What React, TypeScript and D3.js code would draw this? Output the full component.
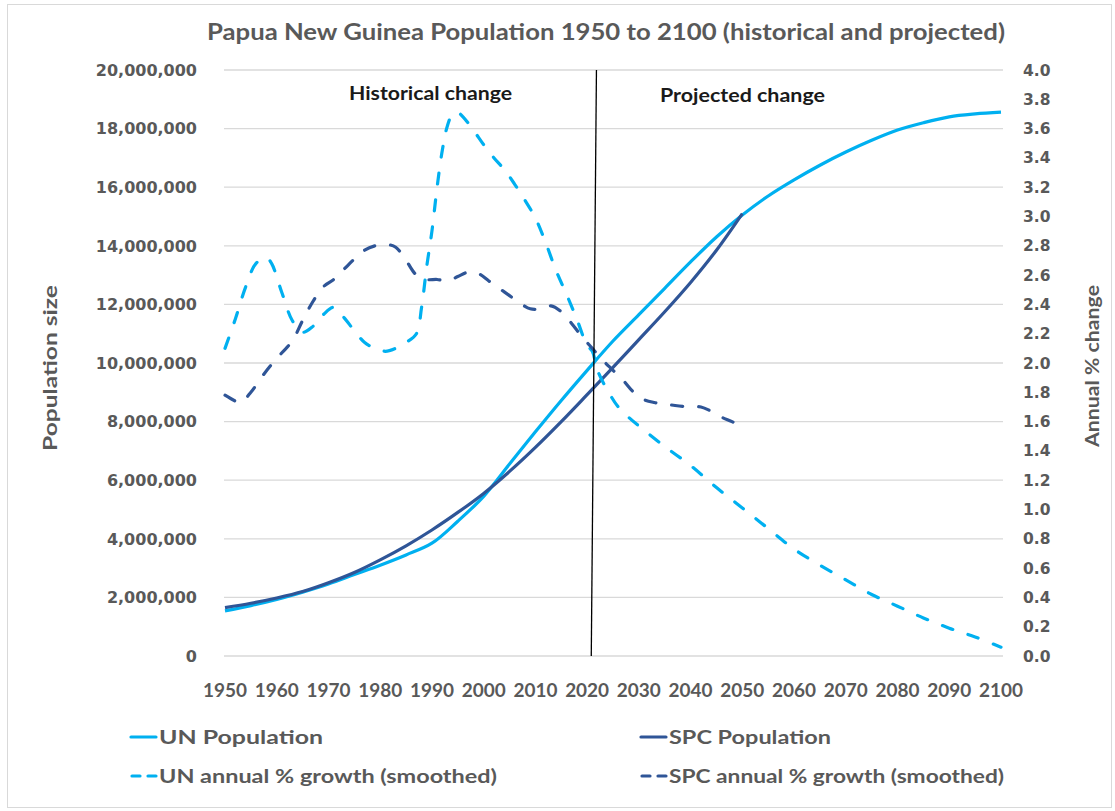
import React from "react";
import * as d3 from "d3";

const title = "Papua New Guinea Population 1950 to 2100 (historical and projected)";
const leftTicks = [0, 2000000, 4000000, 6000000, 8000000, 10000000, 12000000, 14000000, 16000000, 18000000, 20000000];
const rightTicks = [0, 0.2, 0.4, 0.6, 0.8, 1.0, 1.2, 1.4, 1.6, 1.8, 2.0, 2.2, 2.4, 2.6, 2.8, 3.0, 3.2, 3.4, 3.6, 3.8, 4.0];
const xTicks = [1950, 1960, 1970, 1980, 1990, 2000, 2010, 2020, 2030, 2040, 2050, 2060, 2070, 2080, 2090, 2100];

const unPopYears = [1950, 1955, 1960, 1965, 1970, 1975, 1980, 1985, 1990, 1995, 2000, 2005, 2010, 2015, 2020, 2025, 2030, 2035, 2040, 2045, 2050, 2055, 2060, 2065, 2070, 2075, 2080, 2085, 2090, 2095, 2100];
const unPop = [1.54, 1.72, 1.93, 2.18, 2.46, 2.78, 3.1, 3.45, 3.85, 4.6, 5.45, 6.55, 7.65, 8.72, 9.75, 10.75, 11.65, 12.55, 13.45, 14.3, 15.05, 15.7, 16.25, 16.75, 17.2, 17.6, 17.95, 18.2, 18.4, 18.5, 18.56];

const spcPopYears = [1950, 1955, 1960, 1965, 1970, 1975, 1980, 1985, 1990, 1995, 2000, 2005, 2010, 2015, 2020, 2025, 2030, 2035, 2040, 2045, 2050];
const spcPop = [1.65, 1.8, 1.98, 2.2, 2.5, 2.85, 3.28, 3.76, 4.3, 4.9, 5.55, 6.3, 7.12, 8.0, 8.92, 9.85, 10.8, 11.75, 12.75, 13.85, 15.1];

const unGrowthYears = [1950, 1952, 1954, 1956, 1958, 1959, 1961, 1963, 1965, 1967, 1969, 1971, 1973, 1975, 1977, 1979, 1981, 1983, 1985, 1987, 1988, 1989, 1990, 1991, 1992, 1993, 1994, 1995, 1996, 1998, 2000, 2002, 2004, 2006, 2008, 2010, 2012, 2014, 2016, 2018, 2020, 2021, 2022, 2024, 2026, 2028, 2030, 2035, 2040, 2045, 2050, 2055, 2060, 2065, 2070, 2075, 2080, 2085, 2090, 2095, 2100];
const unGrowth = [2.1, 2.3, 2.52, 2.68, 2.72, 2.68, 2.48, 2.29, 2.21, 2.25, 2.33, 2.38, 2.31, 2.22, 2.14, 2.1, 2.08, 2.1, 2.14, 2.2, 2.38, 2.66, 2.9, 3.2, 3.45, 3.62, 3.7, 3.71, 3.68, 3.59, 3.49, 3.4, 3.32, 3.22, 3.11, 2.99, 2.82, 2.63, 2.47, 2.3, 2.12, 2.08, 1.95, 1.81, 1.7, 1.63, 1.57, 1.43, 1.3, 1.15, 1.01, 0.87, 0.73, 0.62, 0.52, 0.42, 0.34, 0.26, 0.19, 0.13, 0.06];

const spcGrowthYears = [1950, 1952, 1953, 1955, 1957, 1959, 1961, 1963, 1965, 1967, 1969, 1971, 1973, 1975, 1977, 1979, 1981, 1983, 1985, 1987, 1989, 1991, 1993, 1995, 1997, 1999, 2001, 2003, 2005, 2007, 2009, 2011, 2013, 2015, 2017, 2019, 2021, 2023, 2025, 2027, 2029, 2031, 2033, 2035, 2037, 2040, 2042, 2044, 2046, 2048, 2050];
const spcGrowth = [1.78, 1.74, 1.73, 1.8, 1.9, 1.99, 2.07, 2.15, 2.29, 2.42, 2.52, 2.57, 2.64, 2.71, 2.77, 2.8, 2.81, 2.79, 2.7, 2.6, 2.57, 2.57, 2.56, 2.59, 2.62, 2.61, 2.56, 2.51, 2.46, 2.41, 2.37, 2.37, 2.39, 2.35, 2.27, 2.18, 2.1, 2.02, 1.95, 1.88, 1.8, 1.75, 1.73, 1.72, 1.71, 1.7, 1.7, 1.67, 1.63, 1.6, 1.56];

const dividerYears = [2021.8, 2020.8];

const UN_COLOR = "#00B0F0";
const SPC_COLOR = "#2F5597";
const TEXT_COLOR = "#595959";

export default function App() {
  const plotLeft = 225, plotRight = 1001, plotTop = 70, plotBottom = 656;
  const x = d3.scaleLinear().domain([1950, 2100]).range([plotLeft, plotRight]);
  const yL = d3.scaleLinear().domain([0, 20000000]).range([plotBottom, plotTop]);
  const yR = d3.scaleLinear().domain([0, 4]).range([plotBottom, plotTop]);
  const curve = d3.curveCatmullRom.alpha(0.5);

  const popLine = d3.line<[number, number]>().x(d => x(d[0])).y(d => yL(d[1] * 1e6)).curve(curve);
  const growthLine = d3.line<[number, number]>().x(d => x(d[0])).y(d => yR(d[1])).curve(curve);

  const zip = (a: number[], b: number[]) => a.map((v, i) => [v, b[i]] as [number, number]);
  const fmt = d3.format(",");

  const axisFont = "'DejaVu Sans', Verdana, sans-serif";
  const labelFont = "Lato, 'Open Sans', sans-serif";
  const dash = "11 16";

  return (
    <svg width={1115} height={811} style={{ position: "absolute", left: 0, top: 0, background: "#fff" }}>
      <rect x={7.5} y={4.5} width={1104} height={803} fill="#fff" stroke="#d9d9d9" strokeWidth={1} />
      <text x={606} y={40} textAnchor="middle" fontFamily={labelFont} fontWeight="bold" fontSize={23} fill={TEXT_COLOR} textLength={798} lengthAdjust="spacingAndGlyphs">{title}</text>

      {leftTicks.map(t => (
        <g key={"l" + t}>
          <line x1={224} x2={1003} y1={yL(t)} y2={yL(t)} stroke="#d9d9d9" strokeWidth={1.3} />
          <text x={197} y={yL(t)} dy="0.36em" textAnchor="end" fontFamily={axisFont} fontWeight="bold" fontSize={16} fill={TEXT_COLOR}>{t === 0 ? "0" : fmt(t)}</text>
        </g>
      ))}
      {rightTicks.map(t => (
        <text key={"r" + t} x={1023} y={yR(t)} dy="0.36em" textAnchor="start" fontFamily={axisFont} fontWeight="bold" fontSize={15.5} fill={TEXT_COLOR}>{t.toFixed(1)}</text>
      ))}
      {xTicks.map(t => (
        <text key={"x" + t} x={x(t)} y={697} textAnchor="middle" fontFamily={labelFont} fontWeight="bold" fontSize={19} fill={TEXT_COLOR} textLength={44} lengthAdjust="spacingAndGlyphs">{t}</text>
      ))}

      <text transform="translate(57,368) rotate(-90)" textAnchor="middle" fontFamily={labelFont} fontWeight="bold" fontSize={19} fill={TEXT_COLOR} textLength={166} lengthAdjust="spacingAndGlyphs">Population size</text>
      <text transform="translate(1099,366) rotate(-90)" textAnchor="middle" fontFamily={labelFont} fontWeight="bold" fontSize={19} fill={TEXT_COLOR} textLength={162} lengthAdjust="spacingAndGlyphs">Annual % change</text>

      <text x={349} y={100} fontFamily={labelFont} fontWeight="bold" fontSize={19} fill="#1a1a1a" textLength={163} lengthAdjust="spacingAndGlyphs">Historical change</text>
      <text x={660} y={102} fontFamily={labelFont} fontWeight="bold" fontSize={19} fill="#1a1a1a" textLength={165} lengthAdjust="spacingAndGlyphs">Projected change</text>

      <path d={popLine(zip(unPopYears, unPop)) || ""} fill="none" stroke={UN_COLOR} strokeWidth={3.2} strokeLinejoin="round" />
      <path d={popLine(zip(spcPopYears, spcPop)) || ""} fill="none" stroke={SPC_COLOR} strokeWidth={3.2} strokeLinejoin="round" />
      <path d={growthLine(zip(unGrowthYears, unGrowth)) || ""} fill="none" stroke={UN_COLOR} strokeWidth={3.2} strokeDasharray={dash} strokeLinecap="round" />
      <path d={growthLine(zip(spcGrowthYears, spcGrowth)) || ""} fill="none" stroke={SPC_COLOR} strokeWidth={3.2} strokeDasharray={dash} strokeLinecap="round" />

      <line x1={x(dividerYears[0])} y1={plotTop} x2={x(dividerYears[1])} y2={plotBottom} stroke="#000" strokeWidth={1.3} />

      {/* legend */}
      <line x1={131} x2={156} y1={737} y2={737} stroke={UN_COLOR} strokeWidth={3.2} strokeLinecap="round" />
      <text x={159} y={744} fontFamily={labelFont} fontWeight="bold" fontSize={19} fill={TEXT_COLOR} textLength={164} lengthAdjust="spacingAndGlyphs">UN Population</text>
      <line x1={641} x2={666} y1={737} y2={737} stroke={SPC_COLOR} strokeWidth={3.2} strokeLinecap="round" />
      <text x={669} y={744} fontFamily={labelFont} fontWeight="bold" fontSize={19} fill={TEXT_COLOR} textLength={162} lengthAdjust="spacingAndGlyphs">SPC Population</text>
      <line x1={132} x2={156} y1={776} y2={776} stroke={UN_COLOR} strokeWidth={3.2} strokeLinecap="round" strokeDasharray="8 8" />
      <text x={159} y={783} fontFamily={labelFont} fontWeight="bold" fontSize={19} fill={TEXT_COLOR} textLength={338} lengthAdjust="spacingAndGlyphs">UN annual % growth (smoothed)</text>
      <line x1={642} x2={666} y1={776} y2={776} stroke={SPC_COLOR} strokeWidth={3.2} strokeLinecap="round" strokeDasharray="8 8" />
      <text x={669} y={783} fontFamily={labelFont} fontWeight="bold" fontSize={19} fill={TEXT_COLOR} textLength={335} lengthAdjust="spacingAndGlyphs">SPC annual % growth (smoothed)</text>
    </svg>
  );
}
